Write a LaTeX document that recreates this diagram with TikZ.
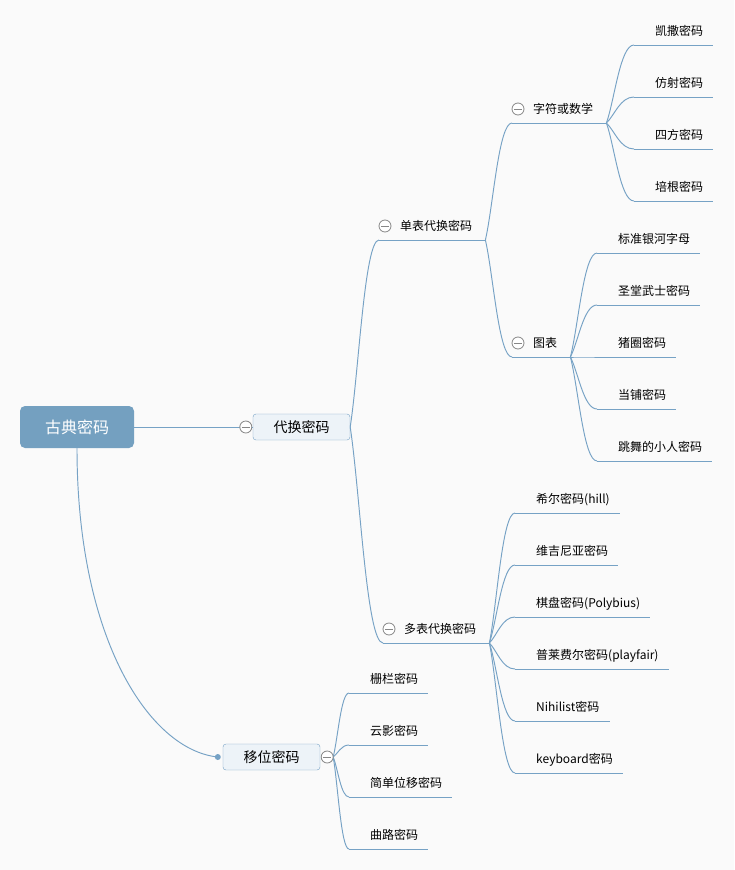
\documentclass[tikz,border=0pt]{standalone}
\usepackage{fontspec}
\setmainfont{Noto Sans CJK SC}
\usepackage{tikz}
\usetikzlibrary{calc}

\definecolor{bgcol}{RGB}{250,250,250}
\definecolor{linecol}{RGB}{118,162,197}
\definecolor{rootcol}{RGB}{116,160,192}
\definecolor{boxcol}{RGB}{237,243,248}
\definecolor{foldcol}{RGB}{135,135,135}

\tikzset{
  topic/.style={draw=linecol,line width=0.95pt},
  branch/.style={to path={.. controls ($(\tikztostart)!0.3!(\tikztotarget)$) and ($(\tikztostart |- \tikztotarget)!0.5!(\tikztotarget)$) .. (\tikztotarget)}},
  leaf/.style={anchor=south west,inner xsep=0pt,inner ysep=6pt,text height=10pt,text depth=3pt,font=\fontsize{12}{14}\selectfont},
  box/.style={draw=linecol,fill=boxcol,rounded corners=3pt,minimum width=97pt,minimum height=26pt,font=\fontsize{14}{16}\selectfont},
  fold/.pic={\draw[foldcol,fill=white,line width=0.8pt] (0,0) circle (6);
             \draw[foldcol,line width=0.8pt] (-4,0) -- (4,0);}
}

\begin{document}
\begin{tikzpicture}[x=1pt,y=-1pt]
\fill[bgcol] (0,0) rectangle (734,870);
\useasboundingbox (0,0) rectangle (734,870);

% root and first level
\node[fill=rootcol,rounded corners=5pt,minimum width=114pt,minimum height=42pt,text=white,font=\fontsize{16}{18}\selectfont] (gudian) at (77,427) {古典密码};
\node[box] (daihuan) at (301.5,427) {代换密码};
\node[box] (yiwei) at (271.5,757) {移位密码};

\draw[topic] (gudian.east) -- (daihuan.west);
\pic at ($(daihuan.west)+(-7,0)$) {fold};

\coordinate (yiwei-dot) at ($(yiwei.west)+(-5,0)$);
\draw[topic] (gudian.south) .. controls (77,640) and (150,750) .. (yiwei-dot);
\fill[linecol] (yiwei-dot) circle (3);
\coordinate (yiwei-e) at ($(yiwei.east)+(13,0)$);

% second level
\foreach \n/\t/\x/\y/\p in {danbiao/单表代换密码/400/240/daihuan.east,duobiao/多表代换密码/404/643/daihuan.east,
                            zifu/字符或数学/533/123/danbiao-e,tubiao/图表/533/357/danbiao-e} {
    \node[leaf] (\n) at (\x,\y) {\t};
    \coordinate (\n-s) at ($(\n.south west)+(-21,0)$);
    \coordinate (\n-e) at ($(\n.south east)+(13,0)$);
    \draw[topic] (\n-s) -- (\n-e);
    \draw[topic,branch] (\p) to (\n-s);
    \pic at ($(\n-s)+(6,-14)$) {fold};
}

% leaves
\foreach \n/\t/\x/\y/\p in {kaisa/凯撒密码/655/45/zifu-e,fangshe/仿射密码/655/97/zifu-e,
                            sifang/四方密码/655/149/zifu-e,peigen/培根密码/655/201/zifu-e,
                            yinhe/标准银河字母/618/253/tubiao-e,shengtang/圣堂武士密码/618/305/tubiao-e,
                            zhujuan/猪圈密码/618/357/tubiao-e,dangpu/当铺密码/618/409/tubiao-e,
                            tiaowu/跳舞的小人密码/618/461/tubiao-e,
                            hill/希尔密码(hill)/536/513/duobiao-e,weijini/维吉尼亚密码/536/565/duobiao-e,
                            qipan/棋盘密码(Polybius)/536/617/duobiao-e,pulai/普莱费尔密码(playfair)/536/669/duobiao-e,
                            nihilist/Nihilist密码/536/721/duobiao-e,keyboard/keyboard密码/536/773/duobiao-e,
                            zhalan/栅栏密码/370/693/yiwei-e,yunying/云影密码/370/745/yiwei-e,
                            jiandan/简单位移密码/370/797/yiwei-e,qulu/曲路密码/370/849/yiwei-e} {
    \node[leaf] (\n) at (\x,\y) {\t};
    \coordinate (\n-s) at ($(\n.south west)+(-21,0)$);
    \draw[topic] (\n-s) -- ($(\n.south east)+(10,0)$);
    \draw[topic,branch] (\p) to (\n-s);
}

\pic at ($(yiwei.east)+(7,0)$) {fold};
\end{tikzpicture}
\end{document}
